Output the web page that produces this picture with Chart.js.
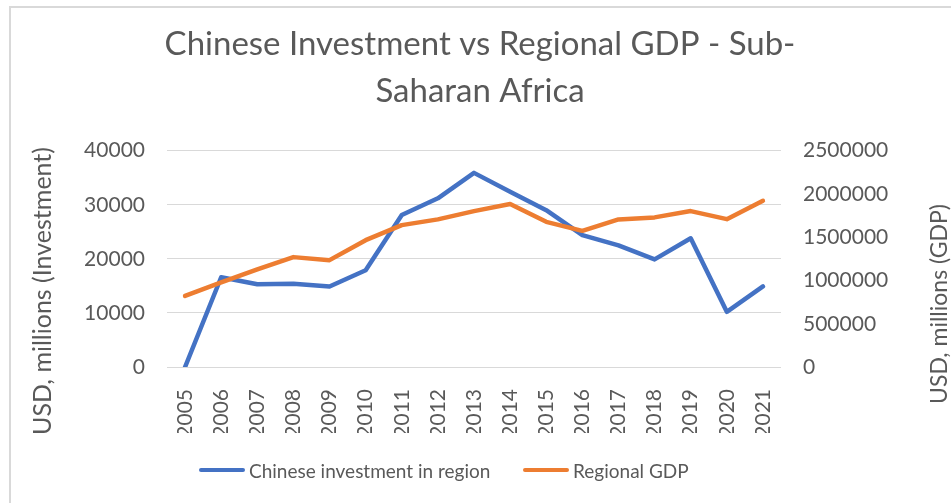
<!DOCTYPE html>
<html>
<head>
<meta charset="utf-8">
<script src="https://cdn.jsdelivr.net/npm/chart.js@4.4.0/dist/chart.umd.min.js"></script>
<style>
    body { margin: 0; background: #fff; overflow: hidden; }
    #wrap { position: relative; width: 951px; height: 503px; overflow: hidden; }
    #frame { position: absolute; left: 9px; top: 6px; width: 1000px; height: 600px; border: 2px solid #d9d9d9; }
    #box { position: absolute; left: 0; top: 0; width: 951px; height: 503px; }
    .legend-item { position: absolute; top: 458px; height: 24px; display: flex; align-items: center;
        font: 19px Lato, "Open Sans", sans-serif; color: #595959; white-space: nowrap; }
    .legend-line { width: 46px; height: 4.5px; border-radius: 3px; margin-right: 4px; }
</style>
</head>
<body>
<div id="wrap">
    <div id="frame"></div>
    <div id="box"><canvas id="chart"></canvas></div>
</div>
<script>
const years = ['2005', '2006', '2007', '2008', '2009', '2010', '2011', '2012', '2013',
    '2014', '2015', '2016', '2017', '2018', '2019', '2020', '2021'];
const investment = [0, 16600, 15300, 15400, 14900, 17900, 28100, 31200, 35900,
    32400, 29000, 24400, 22500, 19900, 23800, 10200, 14900];
const gdp = [822000, 977000, 1127000, 1270000, 1235000, 1466000, 1640000, 1706000, 1802000,
    1883000, 1678000, 1574000, 1706000, 1729000, 1802000, 1709000, 1921000];

const titleLines = ['Chinese Investment vs Regional GDP - Sub-', 'Saharan Africa'];
const leftTitle = 'USD, millions (Investment)';
const rightTitle = 'USD, millions (GDP)';

const textColor = '#595959';
const fontFamily = 'Lato, "Open Sans", sans-serif';

// axis titles drawn by hand so both read bottom-to-top like the original
const axisTitles = {
    id: 'axisTitles',
    afterDraw(chart) {
        const ctx = chart.ctx;
        ctx.save();
        ctx.fillStyle = textColor;
        ctx.textAlign = 'center';
        ctx.textBaseline = 'middle';
        [[leftTitle, 43, 291, 25], [rightTitle, 940, 304, 23]].forEach(([text, x, y, size]) => {
            ctx.save();
            ctx.font = size + 'px ' + fontFamily;
            ctx.translate(x, y);
            ctx.rotate(-Math.PI / 2);
            ctx.fillText(text, 0, 0);
            ctx.restore();
        });
        ctx.restore();
    }
};

const plainNumber = value => String(value);

const chart = new Chart(document.getElementById('chart'), {
    type: 'line',
    data: {
        labels: years,
        datasets: [{
            label: 'Chinese investment in region',
            data: investment,
            borderColor: '#4472C4',
            backgroundColor: '#4472C4',
            borderWidth: 4.5,
            pointRadius: 0,
            borderJoinStyle: 'round',
            borderCapStyle: 'round',
            yAxisID: 'y',
            order: 1
        }, {
            label: 'Regional GDP',
            data: gdp,
            borderColor: '#ED7D31',
            backgroundColor: '#ED7D31',
            borderWidth: 4.5,
            pointRadius: 0,
            borderJoinStyle: 'round',
            borderCapStyle: 'round',
            yAxisID: 'y1',
            order: 0
        }]
    },
    options: {
        responsive: true,
        maintainAspectRatio: false,
        animation: false,
        layout: {
            padding: { left: 9, right: 0, top: 0, bottom: 70 }
        },
        plugins: {
            title: {
                display: true,
                text: titleLines,
                color: textColor,
                font: { family: fontFamily, size: 33, weight: 'normal', lineHeight: 1.45 },
                padding: { top: 20, bottom: 35 }
            },
            legend: { display: false },
            tooltip: { enabled: false }
        },
        scales: {
            x: {
                offset: true,
                grid: { display: false },
                border: { display: false },
                ticks: {
                    color: textColor,
                    font: { family: fontFamily, size: 21 },
                    minRotation: 90,
                    maxRotation: 90,
                    autoSkip: false,
                    padding: 14
                },
                afterFit: scale => { scale.height = 66; }
            },
            y: {
                position: 'left',
                min: 0,
                max: 40000,
                grid: { color: '#d9d9d9', lineWidth: 1, drawTicks: false },
                border: { display: false },
                ticks: {
                    stepSize: 10000,
                    color: textColor,
                    font: { family: fontFamily, size: 21 },
                    padding: 22,
                    callback: plainNumber
                },
                afterFit: scale => { scale.width = 158; }
            },
            y1: {
                position: 'right',
                min: 0,
                max: 2500000,
                grid: { display: false, drawTicks: false },
                border: { display: false },
                ticks: {
                    stepSize: 500000,
                    color: textColor,
                    font: { family: fontFamily, size: 21 },
                    padding: 22,
                    callback: plainNumber
                },
                afterFit: scale => { scale.width = 170; }
            }
        }
    },
    plugins: [axisTitles]
});

// legend row built from the datasets, placed left of centre like the original
const legendLeft = [199, 523];
const wrap = document.getElementById('wrap');
chart.data.datasets.forEach((ds, i) => {
    const item = document.createElement('div');
    item.className = 'legend-item';
    item.style.left = legendLeft[i] + 'px';
    const line = document.createElement('span');
    line.className = 'legend-line';
    line.style.background = ds.borderColor;
    item.appendChild(line);
    item.appendChild(document.createTextNode(ds.label));
    wrap.appendChild(item);
});
</script>
</body>
</html>
